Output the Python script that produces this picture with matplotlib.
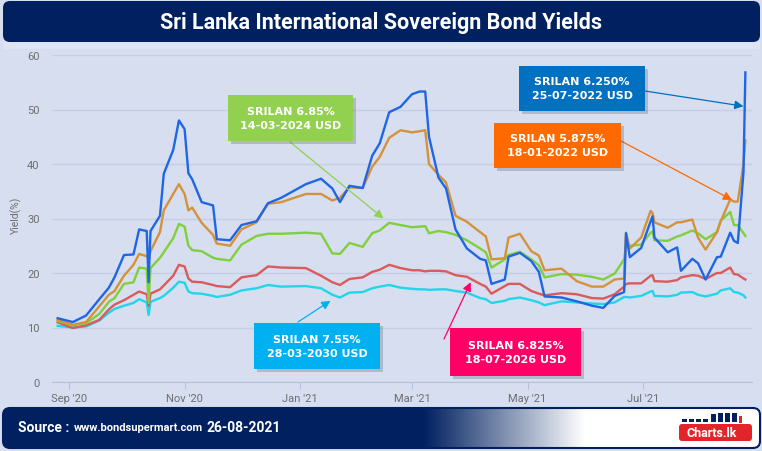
import matplotlib
matplotlib.use("Agg")
import matplotlib.pyplot as plt
import matplotlib.dates as mdates
import matplotlib.transforms as mtransforms
from matplotlib.patches import FancyBboxPatch, Rectangle
import numpy as np
import pandas as pd

dates = [
    "2020-08-26", "2020-09-03", "2020-09-10", "2020-09-17", "2020-09-22", "2020-09-25",
    "2020-09-30", "2020-10-05", "2020-10-08", "2020-10-12", "2020-10-13", "2020-10-14",
    "2020-10-19", "2020-10-21", "2020-10-26", "2020-10-29", "2020-11-01", "2020-11-03",
    "2020-11-05", "2020-11-10", "2020-11-16", "2020-11-18", "2020-11-25", "2020-12-01",
    "2020-12-09", "2020-12-15", "2020-12-22", "2021-01-04", "2021-01-12", "2021-01-18",
    "2021-01-22", "2021-01-27", "2021-02-03", "2021-02-08", "2021-02-12", "2021-02-17",
    "2021-02-23", "2021-03-01", "2021-03-05", "2021-03-08", "2021-03-10", "2021-03-15",
    "2021-03-19", "2021-03-24", "2021-03-30", "2021-04-06", "2021-04-09", "2021-04-12",
    "2021-04-19", "2021-04-21", "2021-04-27", "2021-05-03", "2021-05-07", "2021-05-10",
    "2021-05-19", "2021-05-27", "2021-06-04", "2021-06-10", "2021-06-16", "2021-06-21",
    "2021-06-22", "2021-06-24", "2021-06-30", "2021-07-05", "2021-07-06", "2021-07-07",
    "2021-07-14", "2021-07-19", "2021-07-21", "2021-07-27", "2021-07-30", "2021-08-03",
    "2021-08-09", "2021-08-11", "2021-08-16", "2021-08-18", "2021-08-20", "2021-08-23",
    "2021-08-24",
]

# SRILAN 6.250% 25-07-2022 USD
bond_2022_jul = [
    11.7, 11.0, 12.2, 15.2, 17.3, 19.2, 23.3, 23.4, 28.0, 27.7, 18.3, 27.7,
    30.5, 38.2, 42.6, 48.0, 46.4, 38.3, 37.2, 33.0, 32.4, 26.2, 26.0, 28.8,
    29.5, 32.8, 33.8, 36.3, 37.3, 35.5, 33.0, 36.0, 35.6, 41.5, 43.8, 49.5,
    50.5, 52.8, 53.3, 53.3, 45.0, 37.5, 35.5, 28.0, 24.5, 22.6, 22.3, 18.0,
    18.8, 23.0, 23.7, 22.2, 20.2, 15.7, 15.5, 14.8, 14.0, 13.6, 15.8, 16.5,
    27.3, 22.9, 24.6, 29.5, 30.4, 26.5, 23.8, 24.7, 20.4, 22.6, 21.8, 18.8,
    22.9, 23.0, 27.4, 25.9, 25.5, 38.5, 56.8,
]
# SRILAN 5.875% 18-01-2022 USD
bond_2022_jan = [
    11.4, 10.5, 11.0, 13.9, 16.0, 16.7, 19.5, 21.5, 23.5, 23.1, 22.5, 24.0,
    27.5, 31.5, 34.5, 36.3, 34.5, 31.5, 32.0, 29.2, 27.0, 25.4, 25.0, 28.0,
    29.3, 32.7, 33.0, 34.5, 34.5, 33.3, 33.8, 35.7, 35.6, 39.5, 41.3, 44.8,
    46.2, 45.8, 46.0, 46.2, 40.0, 38.0, 36.6, 30.5, 29.4, 27.5, 26.7, 22.5,
    22.7, 26.5, 27.2, 24.0, 23.2, 20.5, 20.8, 18.5, 17.5, 17.5, 18.8, 19.0,
    27.4, 24.5, 26.5, 31.4, 31.0, 29.3, 28.3, 29.3, 29.3, 29.8, 26.5, 24.3,
    27.5, 29.5, 33.5, 33.1, 33.1, 40.0, 44.3,
]
# SRILAN 6.85% 14-03-2024 USD
bond_2024 = [
    11.2, 10.4, 10.8, 12.5, 14.7, 15.4, 18.0, 18.3, 21.0, 20.8, 14.5, 20.9,
    22.8, 23.8, 26.4, 29.0, 28.5, 25.0, 24.2, 24.0, 22.8, 22.6, 22.3, 25.2,
    26.8, 27.2, 27.2, 27.4, 27.2, 23.6, 23.5, 25.5, 24.8, 27.3, 27.8, 29.2,
    28.8, 28.4, 28.5, 28.6, 27.3, 27.7, 27.5, 27.0, 26.0, 24.5, 23.8, 21.0,
    22.5, 23.3, 23.9, 22.5, 21.4, 19.2, 19.8, 19.7, 19.3, 18.8, 19.9, 22.5,
    25.2, 25.0, 25.2, 27.4, 27.6, 26.0, 25.9, 26.7, 26.9, 27.8, 27.3, 26.2,
    27.5, 29.6, 31.2, 28.8, 28.8, 27.3, 26.8,
]
# SRILAN 6.825% 18-07-2026 USD
bond_2026 = [
    10.95, 9.9, 10.4, 11.4, 13.3, 14.2, 15.0, 16.0, 16.6, 16.1, 14.0, 16.2,
    17.0, 17.7, 19.5, 21.5, 21.2, 19.0, 18.4, 18.3, 17.8, 17.6, 17.4, 19.2,
    19.6, 21.2, 21.0, 20.9, 19.5, 18.3, 17.8, 18.9, 19.2, 20.2, 20.6, 21.5,
    20.9, 20.5, 20.5, 20.3, 20.4, 20.4, 20.3, 19.6, 19.3, 18.0, 17.5, 16.2,
    17.6, 18.0, 18.0, 16.7, 16.2, 15.9, 16.3, 16.1, 15.4, 15.3, 16.1, 17.5,
    18.0, 18.1, 18.1, 19.5, 19.6, 18.5, 18.4, 18.7, 19.2, 19.6, 19.5, 18.9,
    20.0, 20.0, 21.0, 19.8, 19.7, 19.0, 18.8,
]
# SRILAN 7.55% 28-03-2030 USD
bond_2030 = [
    10.3, 10.0, 10.2, 11.3, 12.7, 13.4, 14.0, 14.5, 15.2, 14.6, 12.3, 14.7,
    15.4, 15.8, 17.3, 18.4, 18.2, 16.6, 16.3, 16.2, 15.8, 15.6, 16.0, 16.8,
    17.2, 17.8, 17.5, 17.6, 17.2, 16.0, 15.5, 16.4, 16.5, 17.2, 17.5, 17.8,
    17.3, 17.1, 17.0, 17.0, 16.9, 17.0, 17.0, 16.7, 16.4, 15.4, 15.2, 14.5,
    14.9, 15.2, 15.5, 15.0, 14.6, 14.1, 14.8, 14.6, 14.4, 14.3, 14.6, 15.6,
    15.6, 15.5, 15.8, 16.6, 16.7, 15.8, 15.7, 16.0, 16.4, 16.5, 16.0, 15.7,
    16.2, 16.8, 17.2, 16.5, 16.4, 15.9, 15.5,
]

W, H = 762, 452
BG = "#D6DEF0"
NAVY = "#002060"
GRID = "#C5CEE3"
PIX = mtransforms.IdentityTransform()
FONT = ["Roboto", "DejaVu Sans"]


def fx(px):
    return px / W


def fy(py):
    return 1 - py / H


fig = plt.figure(figsize=(W / 100, H / 100), dpi=100)
fig.patch.set_facecolor(BG)

# main chart
ax = fig.add_axes([fx(52), fy(383), fx(752) - fx(52), fy(56) - fy(383)])
ax.set_facecolor(BG)
d = pd.to_datetime(dates)
ax.plot(d, bond_2030, color="#22D5E8", lw=1.7)
ax.plot(d, bond_2026, color="#D95B5B", lw=1.7)
ax.plot(d, bond_2024, color="#7FD03A", lw=1.7)
ax.plot(d, bond_2022_jan, color="#D4923A", lw=1.7)
ax.plot(d, bond_2022_jul, color="#1F66E5", lw=1.7)

ax.set_ylim(0, 60)
ax.set_yticks(range(0, 61, 10))
ax.set_xlim(pd.Timestamp("2020-08-23"), pd.Timestamp("2021-08-27 12:00"))
ax.xaxis.set_major_locator(mdates.MonthLocator(bymonth=[1, 3, 5, 7, 9, 11]))
ax.xaxis.set_major_formatter(mdates.DateFormatter("%b '%y"))
ax.grid(axis="y", color=GRID, lw=1)
ax.set_axisbelow(True)
for s in ["top", "right", "left"]:
    ax.spines[s].set_visible(False)
ax.spines["bottom"].set_color("#B5C1DC")
ax.tick_params(axis="y", length=0, colors="#6E6E6E", labelsize=8, pad=9)
ax.tick_params(axis="x", length=5, color="#B5C1DC", colors="#6E6E6E", labelsize=8, pad=3)
for lab in ax.get_xticklabels() + ax.get_yticklabels():
    lab.set_family(FONT)
fig.text(fx(16), fy(215), "Yield(%)", rotation=90, ha="center", va="center",
         color="#6E6E6E", fontsize=7.5, family=FONT)

# title banner
fig.add_artist(FancyBboxPatch((3, H - 43), 757, 41, boxstyle="round,pad=0,rounding_size=7",
                              transform=PIX, fc=NAVY, ec="none"))
fig.add_artist(Rectangle((3, H - 50), 757, 7, transform=PIX, fc="#DDE4F4", ec="none"))
fig.text(0.5, fy(23), "Sri Lanka International Sovereign Bond Yields", ha="center",
         va="center", color="white", fontsize=15.5, fontweight="bold", family=FONT)

# footer with gradient
fax = fig.add_axes([fx(3), fy(449), fx(757), 40 / H])
fax.set_axis_off()
t = np.linspace(0, 1, 600)
navy_rgb = np.array([0, 32, 96]) / 255
mix = np.clip((t - 0.556) / (0.769 - 0.556), 0, 1)
grad = navy_rgb[None, :] * (1 - mix[:, None]) + mix[:, None]
im = fax.imshow(grad[None, :, :], aspect="auto", extent=[0, 1, 0, 1])
clip = FancyBboxPatch((3, H - 449), 757, 40, boxstyle="round,pad=0,rounding_size=7",
                      transform=PIX, fc="none", ec="none")
im.set_clip_path(clip)
fig.add_artist(FancyBboxPatch((3, H - 449), 757, 40, boxstyle="round,pad=0,rounding_size=7",
                              transform=PIX, fc="none", ec=NAVY, lw=1.5))

# source line, pieces laid one after another
renderer = fig.canvas.get_renderer()
xpos = 18
for piece, size in [("Source :", 10), ("www.bondsupermart.com", 8), ("26-08-2021", 10)]:
    tx = fig.text(fx(xpos), fy(428), piece, color="white", fontsize=size,
                  fontweight="bold", va="center", family=FONT)
    xpos = tx.get_window_extent(renderer).x1 + 4

# charts.lk logo
fig.add_artist(FancyBboxPatch((679, H - 442), 73, 17, boxstyle="round,pad=0,rounding_size=3",
                              transform=PIX, fc="#E3242B", ec="none"))
fig.text(fx(712), fy(433.5), "Charts.lk", color="white", fontsize=9, fontweight="bold",
         ha="center", va="center", family=FONT)
for bx, bh in [(682, 3), (689, 3), (696, 3), (703, 3), (711, 8), (718, 9), (725, 9), (732, 9)]:
    fig.add_artist(Rectangle((bx, H - 423), 5, bh, transform=PIX, fc=NAVY, ec="none"))
fig.add_artist(Rectangle((739, H - 424), 3, 7, transform=PIX, fc="#E3242B", ec="none"))


def callout(x0, y0, x1, y1, color, text, start, tip):
    fig.add_artist(Rectangle((x0 + 3, H - y1 - 3), x1 - x0, y1 - y0, transform=PIX,
                             fc="#404a60", alpha=0.25, ec="none"))
    fig.add_artist(Rectangle((x0, H - y1), x1 - x0, y1 - y0, transform=PIX, fc=color, ec="none"))
    fig.text(fx((x0 + x1) / 2), fy((y0 + y1) / 2), text, ha="center", va="center",
             color="white", fontsize=8, fontweight="bold", linespacing=1.5)
    ax.annotate("", xy=(pd.Timestamp(tip[0]), tip[1]), xycoords="data",
                xytext=(start[0], H - start[1]), textcoords="figure pixels",
                arrowprops=dict(arrowstyle="-|>", color=color, lw=0.9, mutation_scale=13,
                                shrinkA=0, shrinkB=0), annotation_clip=False)


callout(228, 96, 353, 142, "#92D050", "SRILAN 6.85%\n14-03-2024 USD",
        (290, 143), ("2021-02-14", 30.0))
callout(519, 67, 645, 112, "#0070C0", "SRILAN 6.250%\n25-07-2022 USD",
        (645, 92), ("2021-08-23", 50.6))
callout(494, 124, 621, 169, "#FF6A00", "SRILAN 5.875%\n18-01-2022 USD",
        (621, 142), ("2021-08-17", 33.4))
callout(254, 324, 380, 370, "#00B0F0", "SRILAN 7.55%\n28-03-2030 USD",
        (298, 323), ("2021-01-17", 14.9))
callout(450, 329, 581, 377, "#FF0066", "SRILAN 6.825%\n18-07-2026 USD",
        (444, 340), ("2021-04-01", 18.3))

fig.savefig("out.png", dpi=100, facecolor=BG)
